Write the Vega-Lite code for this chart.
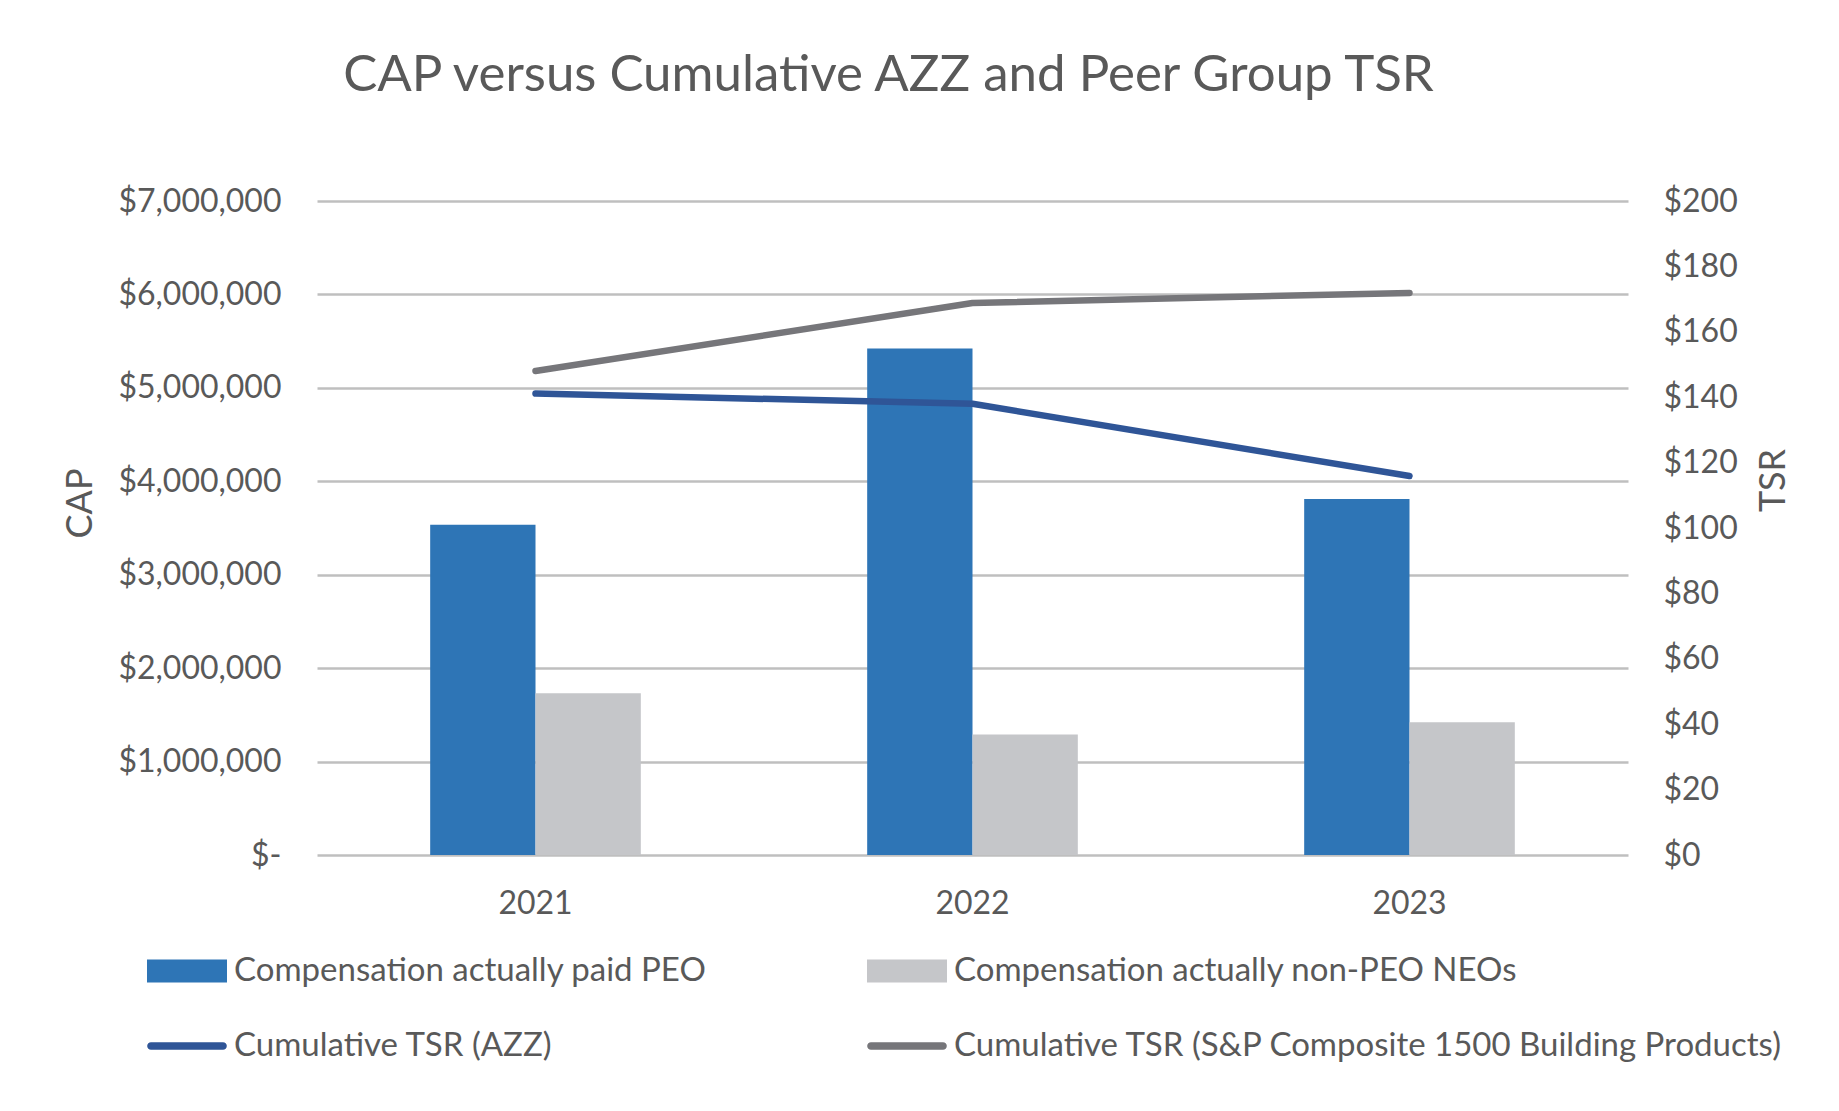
{
  "$schema": "https://vega.github.io/schema/vega-lite/v6.json",
  "width": 1311,
  "height": 654,
  "autosize": {"type": "none"},
  "padding": {"left": 317, "top": 201, "right": 211, "bottom": 256},
  "background": "white",
  "config": {
    "view": {"stroke": null},
    "font": "Lato",
    "axis": {
      "labelFont": "Lato",
      "labelFontSize": 32,
      "labelColor": "#595959",
      "titleFont": "Lato",
      "titleFontSize": 36,
      "titleFontWeight": "normal",
      "titleColor": "#595959",
      "domain": false,
      "ticks": false
    }
  },
  "title": {
    "text": "CAP versus Cumulative AZZ and Peer Group TSR",
    "font": "Lato",
    "fontSize": 51,
    "fontWeight": "normal",
    "color": "#595959",
    "anchor": "middle",
    "baseline": "alphabetic",
    "dx": -84,
    "offset": 43
  },
  "data": {
    "values": [
      {"year": "2021", "kind": "bar", "series": "Compensation actually paid PEO", "value": 3535000},
      {"year": "2021", "kind": "bar", "series": "Compensation actually non-PEO NEOs", "value": 1732000},
      {"year": "2022", "kind": "bar", "series": "Compensation actually paid PEO", "value": 5420000},
      {"year": "2022", "kind": "bar", "series": "Compensation actually non-PEO NEOs", "value": 1290000},
      {"year": "2023", "kind": "bar", "series": "Compensation actually paid PEO", "value": 3810000},
      {"year": "2023", "kind": "bar", "series": "Compensation actually non-PEO NEOs", "value": 1420000},
      {"year": "2021", "kind": "line", "series": "Cumulative TSR (AZZ)", "value": 141.1},
      {"year": "2022", "kind": "line", "series": "Cumulative TSR (AZZ)", "value": 138.0},
      {"year": "2023", "kind": "line", "series": "Cumulative TSR (AZZ)", "value": 115.9},
      {"year": "2021", "kind": "line", "series": "Cumulative TSR (S&P Composite 1500 Building Products)", "value": 148.0},
      {"year": "2022", "kind": "line", "series": "Cumulative TSR (S&P Composite 1500 Building Products)", "value": 168.8},
      {"year": "2023", "kind": "line", "series": "Cumulative TSR (S&P Composite 1500 Building Products)", "value": 171.9}
    ]
  },
  "encoding": {
    "x": {
      "field": "year",
      "type": "ordinal",
      "scale": {"paddingInner": 0.518, "paddingOuter": 0.259},
      "axis": {"title": null, "labelAngle": 0, "labelPadding": 33, "grid": false}
    }
  },
  "layer": [
    {
      "transform": [{"filter": "datum.kind == 'bar'"}],
      "mark": {"type": "bar"},
      "encoding": {
        "xOffset": {
          "field": "series",
          "type": "nominal",
          "scale": {"domain": ["Compensation actually paid PEO", "Compensation actually non-PEO NEOs"], "paddingInner": 0, "paddingOuter": 0}
        },
        "y": {
          "field": "value",
          "type": "quantitative",
          "scale": {"domain": [0, 7000000], "nice": false},
          "axis": {
            "title": "CAP",
            "values": [0, 1000000, 2000000, 3000000, 4000000, 5000000, 6000000, 7000000],
            "labelExpr": "datum.value == 0 ? '$-' : '$' + format(datum.value, ',')",
            "labelPadding": 36,
            "grid": true,
            "gridColor": "#BFBFBF",
            "gridWidth": 2.5,
            "titleX": -237,
            "titleY": 302,
            "titleAngle": -90,
            "titleAlign": "center",
            "titleBaseline": "middle"
          }
        },
        "color": {
          "field": "series",
          "type": "nominal",
          "scale": {
            "domain": ["Compensation actually paid PEO", "Compensation actually non-PEO NEOs", "Cumulative TSR (AZZ)", "Cumulative TSR (S&P Composite 1500 Building Products)"],
            "range": ["#2E75B6", "#C5C6C9", "#2F5597", "#76767A"]
          },
          "legend": {
            "title": null,
            "orient": "none",
            "direction": "horizontal",
            "legendX": -150,
            "legendY": 750,
            "columns": 2,
            "columnPadding": 160,
            "rowPadding": 38,
            "labelFont": "Lato",
            "labelFontSize": 33,
            "labelColor": "#595959",
            "labelLimit": 0,
            "labelOffset": 27,
            "symbolSize": 1600,
            "encode": {
              "symbols": {
                "update": {
                  "shape": {"signal": "indexof(datum.value, 'Cumulative') == 0 ? 'M-1.8,-0.19H1.8A0.19,0.19 0 0 1 1.8,0.19H-1.8A0.19,0.19 0 0 1 -1.8,-0.19Z' : 'M-2,-0.58H2V0.58H-2Z'"},
                  "fill": {"signal": "scale('color', datum.value)"},
                  "stroke": {"value": "transparent"},
                  "strokeWidth": {"value": 0},
                  "opacity": {"value": 1}
                }
              }
            }
          }
        }
      }
    },
    {
      "transform": [{"filter": "datum.kind == 'line'"}],
      "mark": {"type": "line", "strokeWidth": 6.5, "strokeCap": "round", "strokeJoin": "round"},
      "encoding": {
        "y": {
          "field": "value",
          "type": "quantitative",
          "scale": {"domain": [0, 200], "nice": false},
          "axis": {
            "orient": "right",
            "title": "TSR",
            "values": [0, 20, 40, 60, 80, 100, 120, 140, 160, 180, 200],
            "labelExpr": "'$' + datum.value",
            "labelPadding": 35,
            "grid": false,
            "titleX": 145,
            "titleY": 279,
            "titleAngle": -90,
            "titleAlign": "center",
            "titleBaseline": "middle"
          }
        },
        "color": {
          "field": "series",
          "type": "nominal",
          "scale": {
            "domain": ["Compensation actually paid PEO", "Compensation actually non-PEO NEOs", "Cumulative TSR (AZZ)", "Cumulative TSR (S&P Composite 1500 Building Products)"],
            "range": ["#2E75B6", "#C5C6C9", "#2F5597", "#76767A"]
          }
        }
      }
    }
  ],
  "resolve": {"scale": {"y": "independent"}}
}
